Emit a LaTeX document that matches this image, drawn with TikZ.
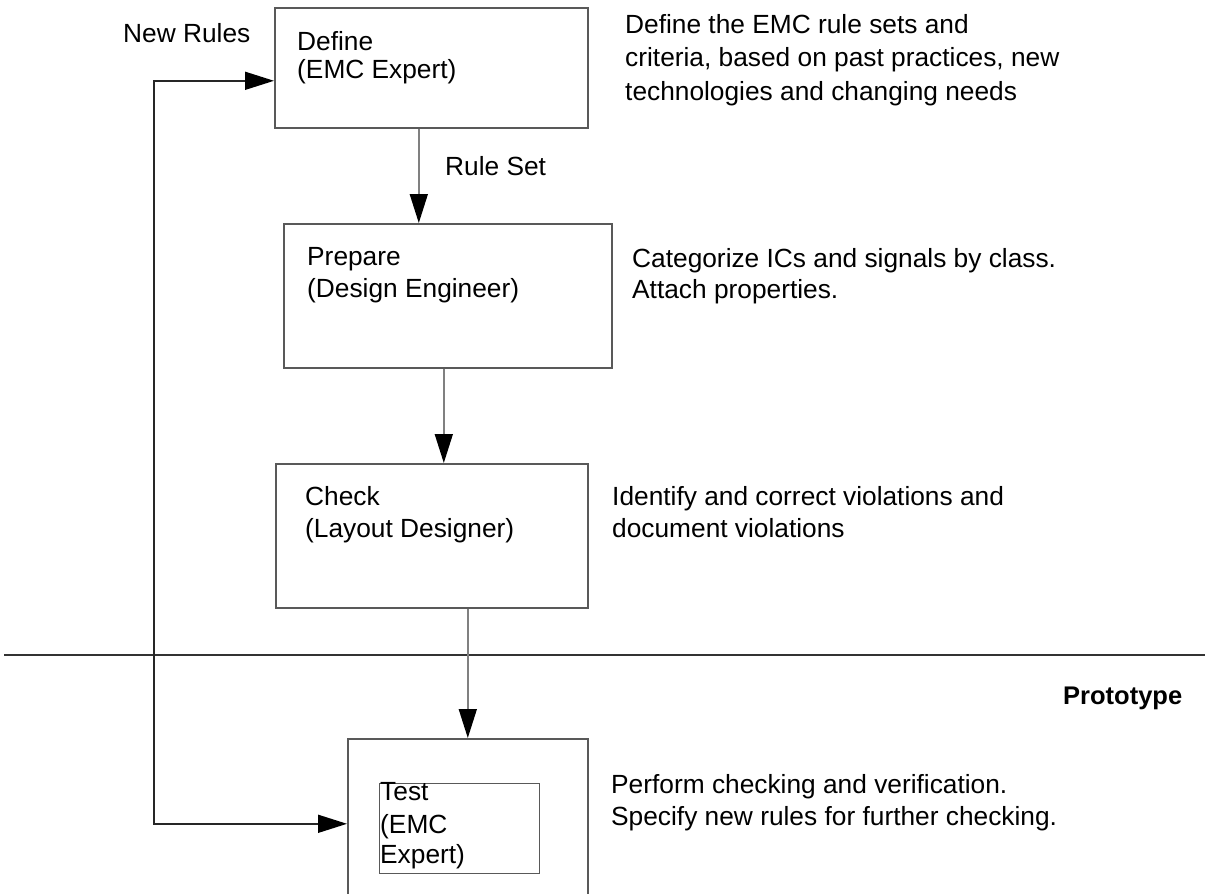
\documentclass[tikz,border=0pt]{standalone}
\usepackage{fontspec}
\setmainfont{Liberation Sans}
\usetikzlibrary{arrows.meta}
\begin{document}
\begin{tikzpicture}[x=1pt,y=-1pt,
  box/.style={draw=black!65, line width=1.6pt, inner sep=0pt, anchor=north west},
  txt/.style={anchor=base west, inner sep=0pt, font=\fontsize{26.3}{30}\selectfont},
  flow/.style={draw=black!50, line width=1.6pt, -{Triangle[length=29pt,width=18pt,black]}},
  loopback/.style={draw=black!85, line width=1.6pt,
    {Triangle[length=29pt,width=18pt,black]}-{Triangle[length=29pt,width=18pt,black]}}]
\clip (0,0) rectangle (1205,894);
\fill[white] (0,0) rectangle (1205,894);

% process boxes
\node[box, minimum width=313pt, minimum height=120pt] (define)  at (274,7)   {};
\node[box, minimum width=328pt, minimum height=144pt] (prepare) at (283,223) {};
\node[box, minimum width=312pt, minimum height=144pt] (check)   at (275,463) {};
\node[box, minimum width=240pt, minimum height=170pt] (test)    at (347,738) {};
\node[box, minimum width=160pt, minimum height=90pt, line width=1.3pt] (testinner) at (379,783) {};

% phase separator
\draw[draw=black!80, line width=1.6pt] (4,655) -- (1205,655);

% box labels
\node[txt] (defA) at (297,50) {Define};
\node[txt] (defB) at (297,78) {(EMC Expert)};
\node[txt] (prepA) at (307,265) {Prepare};
\node[txt] (prepB) at (307,297) {(Design Engineer)};
\node[txt] (chkA) at (305,505) {Check};
\node[txt] (chkB) at (305,537) {(Layout Designer)};
\node[txt] (tstA) at (380,800) {Test};
\node[txt] (tstB) at (380,833) {(EMC};
\node[txt] (tstC) at (380,863) {Expert)};

% descriptions
\node[txt] (dA) at (625,33) {Define the EMC rule sets and};
\node[txt] (dB) at (625,66.5) {criteria, based on past practices, new};
\node[txt] (dC) at (625,100) {technologies and changing needs};
\node[txt] (pA) at (632,267) {Categorize ICs and signals by class.};
\node[txt] (pB) at (632,298) {Attach properties.};
\node[txt] (cA) at (612,505) {Identify and correct violations and};
\node[txt] (cB) at (612,537) {document violations};
\node[txt] (tA) at (611,793) {Perform checking and verification.};
\node[txt] (tB) at (611,825) {Specify new rules for further checking.};

% other labels
\node[txt] (newrules) at (123,42) {New Rules};
\node[txt] (ruleset) at (445,175) {Rule Set};
\node[txt, font=\fontsize{25.5}{30}\selectfont\bfseries] (proto) at (1063,704) {Prototype};

% connectors
\draw[flow] ([xshift=-12.5pt]define.south) -- ([xshift=-12.5pt]define.south |- prepare.north);
\draw[flow] ([xshift=-4pt]prepare.south) -- ([xshift=-4pt]prepare.south |- check.north);
\draw[flow] ([xshift=36pt]check.south) -- ([xshift=36pt]check.south |- test.north);
\draw[loopback] ([yshift=-13pt]define.west) -- ++(-120,0) |- (test.west);
\end{tikzpicture}
\end{document}
